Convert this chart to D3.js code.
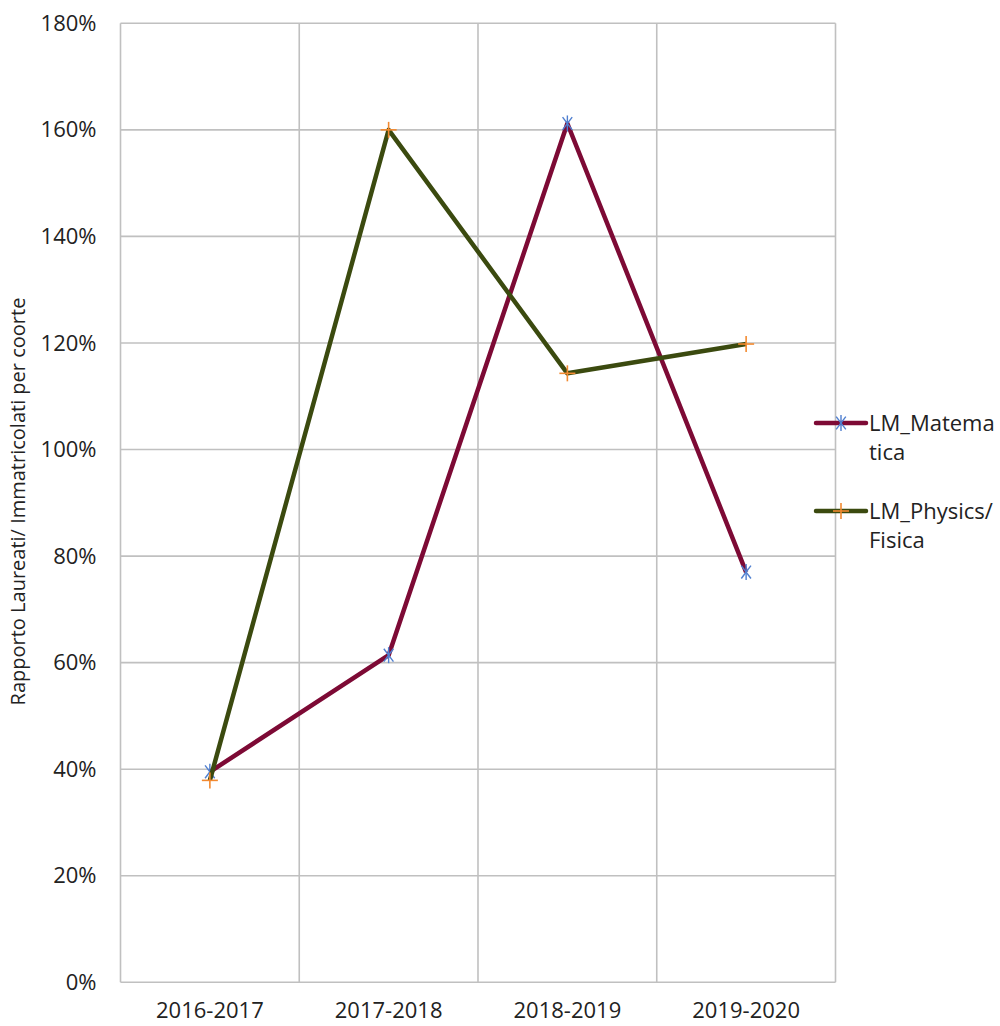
<!DOCTYPE html>
<html><head><meta charset="utf-8">
<script src="https://cdn.jsdelivr.net/npm/d3@7"></script>
<style>body{margin:0;background:#fff}svg{display:block}text{font-family:"Open Sans","Noto Sans",sans-serif;fill:#222}</style>
</head><body>
<script>
const categories = ["2016-2017","2017-2018","2018-2019","2019-2020"];
const matematica = [0.395, 0.614, 1.612, 0.77];
const fisica = [0.379, 1.60, 1.143, 1.198];
const seriesNames = [["LM_Matema","tica"],["LM_Physics/","Fisica"]];
const yTicks = [0,0.2,0.4,0.6,0.8,1.0,1.2,1.4,1.6,1.8];

const W=1000,H=1026;
const svg=d3.select("body").append("svg").attr("width",W).attr("height",H);
const L=120.5,R=835.5,T=23.3,B=982.3;
const x=d3.scaleBand().domain(categories).range([L,R]);
const y=d3.scaleLinear().domain([0,1.8]).range([B,T]);
const grid="#c0c0c0";
const FS="22px";

svg.append("g").selectAll("line").data(yTicks).join("line")
 .attr("x1",L).attr("x2",R).attr("y1",d=>y(d)).attr("y2",d=>y(d))
 .attr("stroke",grid).attr("stroke-width",1.6);
const vx=categories.map(c=>x(c)).concat([R]);
svg.append("g").selectAll("line").data(vx).join("line")
 .attr("x1",d=>d).attr("x2",d=>d).attr("y1",T).attr("y2",B)
 .attr("stroke",grid).attr("stroke-width",1.6);

const yAxis=d3.axisLeft(y).tickValues(yTicks).tickFormat(d3.format(".0%")).tickSize(0).tickPadding(24);
const ga=svg.append("g").attr("transform",`translate(${L},0)`).call(yAxis);
ga.select(".domain").remove();
ga.selectAll("text").style("font-size",FS).style("font-family","'Open Sans',sans-serif").attr("fill","#222");

const xAxis=d3.axisBottom(x).tickSize(0).tickPadding(20);
const gx=svg.append("g").attr("transform",`translate(0,${B})`).call(xAxis);
gx.select(".domain").remove();
gx.selectAll("text").style("font-size",FS).style("font-family","'Open Sans',sans-serif").attr("fill","#222");

svg.append("text").attr("transform",`translate(25,${(295+708)/2}) rotate(-90)`)
 .attr("text-anchor","middle").style("font-size","20px").text("Rapporto Laureati/ Immatricolati per coorte");

const cx=c=>x(c)+x.bandwidth()/2;
const line=d3.line().x((d,i)=>cx(categories[i])).y(d=>y(d));

function star(g,px,py){
  const r=8;
  [[-r*0.6,-r*0.8,r*0.6,r*0.8],[-r*0.6,r*0.8,r*0.6,-r*0.8],[0,-r,0,r]].forEach(s=>{
    g.append("line").attr("x1",px+s[0]).attr("y1",py+s[1]).attr("x2",px+s[2]).attr("y2",py+s[3]).attr("stroke","#4f7fd0").attr("stroke-width",1.4);
  });
}
function plus(g,px,py){
  const r=8;
  g.append("line").attr("x1",px-r).attr("y1",py).attr("x2",px+r).attr("y2",py).attr("stroke","#f28a30").attr("stroke-width",1.6);
  g.append("line").attr("x1",px).attr("y1",py-r).attr("x2",px).attr("y2",py+r).attr("stroke","#f28a30").attr("stroke-width",1.6);
}

const cM="#7d0a35", cF="#3b4a0f";
svg.append("path").attr("d",line(matematica)).attr("fill","none").attr("stroke",cM).attr("stroke-width",4.5).attr("stroke-linejoin","round");
const gm=svg.append("g");
matematica.forEach((v,i)=>star(gm,cx(categories[i]),y(v)));
svg.append("path").attr("d",line(fisica)).attr("fill","none").attr("stroke",cF).attr("stroke-width",4.5).attr("stroke-linejoin","round");
const gf=svg.append("g");
fisica.forEach((v,i)=>plus(gf,cx(categories[i]),y(v)));

const leg=svg.append("g");
const legY=[423,511];
[[cM,star],[cF,plus]].forEach((s,i)=>{
  leg.append("line").attr("x1",816).attr("x2",866).attr("y1",legY[i]).attr("y2",legY[i]).attr("stroke",s[0]).attr("stroke-width",4.5).attr("stroke-linecap","round");
  s[1](leg,841,legY[i]);
  const t=leg.append("text").attr("x",869).attr("y",legY[i]+8).style("font-size",FS);
  t.append("tspan").attr("x",869).text(seriesNames[i][0]);
  t.append("tspan").attr("x",869).attr("dy",29).text(seriesNames[i][1]);
});
</script>
</body></html>
